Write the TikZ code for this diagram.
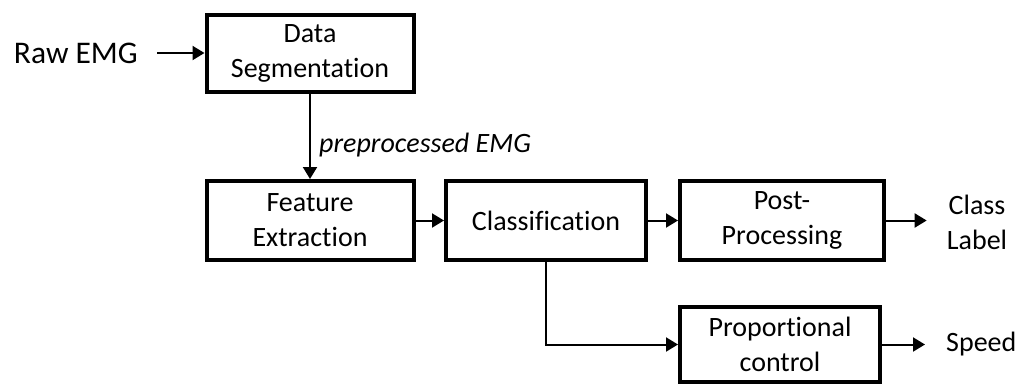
\documentclass[tikz,border=0pt]{standalone}
\usepackage{fontspec}
\setmainfont[Ligatures={NoCommon}]{Carlito}
\usetikzlibrary{arrows.meta}
\begin{document}
\begin{tikzpicture}[x=1pt,y=-1pt,
 blk/.style={draw, line width=4pt, inner sep=0pt, align=center, font=\fontsize{28}{35}\selectfont},
 lbl/.style={inner sep=0pt, align=center, font=\fontsize{28}{35}\selectfont},
 arr/.style={line width=2pt, -{Triangle[length=12pt,width=14pt]}}]
\useasboundingbox[fill=white] (0,0) rectangle (1026,386);
\node[blk, minimum width=207pt, minimum height=77pt] (seg) at (310,53.5) {Data\\Segmentation};
\node[blk, minimum width=207pt, minimum height=79pt] (fe) at (310,220.5) {Feature\\Extraction};
\node[blk, minimum width=200pt, minimum height=79pt] (cls) at (546,220.5) {Classification};
\node[blk, minimum width=204pt, minimum height=79pt] (pp) at (782,220.5) {Post-\\Processing};
\node[blk, minimum width=200pt, minimum height=75pt] (pc) at (780,344.5) {Proportional\\control};
\node[lbl, anchor=east, font=\fontsize{31.5}{38}\selectfont] (raw) at (138,53) {Raw EMG};
\node[lbl, anchor=base west, font=\fontsize{28}{35}\selectfont\itshape] (pre) at (319,152) {preprocessed EMG};
\node[lbl] (cl) at (977,222) {Class\\Label};
\node[lbl, anchor=west] (sp) at (946,344) {Speed};
\draw[arr, shorten <=19pt] (raw.east) -- (seg.west |- raw.east);
\draw[arr] (seg.south) -- (fe.north);
\draw[arr] (fe.east) -- (cls.west);
\draw[arr] (cls.east) -- (pp.west);
\draw[arr] (cls.south) |- (pc.west);
\draw[arr, shorten >=20pt] (pp.east) -- (cl.west |- pp.east);
\draw[arr, shorten >=21pt] (pc.east) -- (sp.west |- pc.east);
\end{tikzpicture}
\end{document}
